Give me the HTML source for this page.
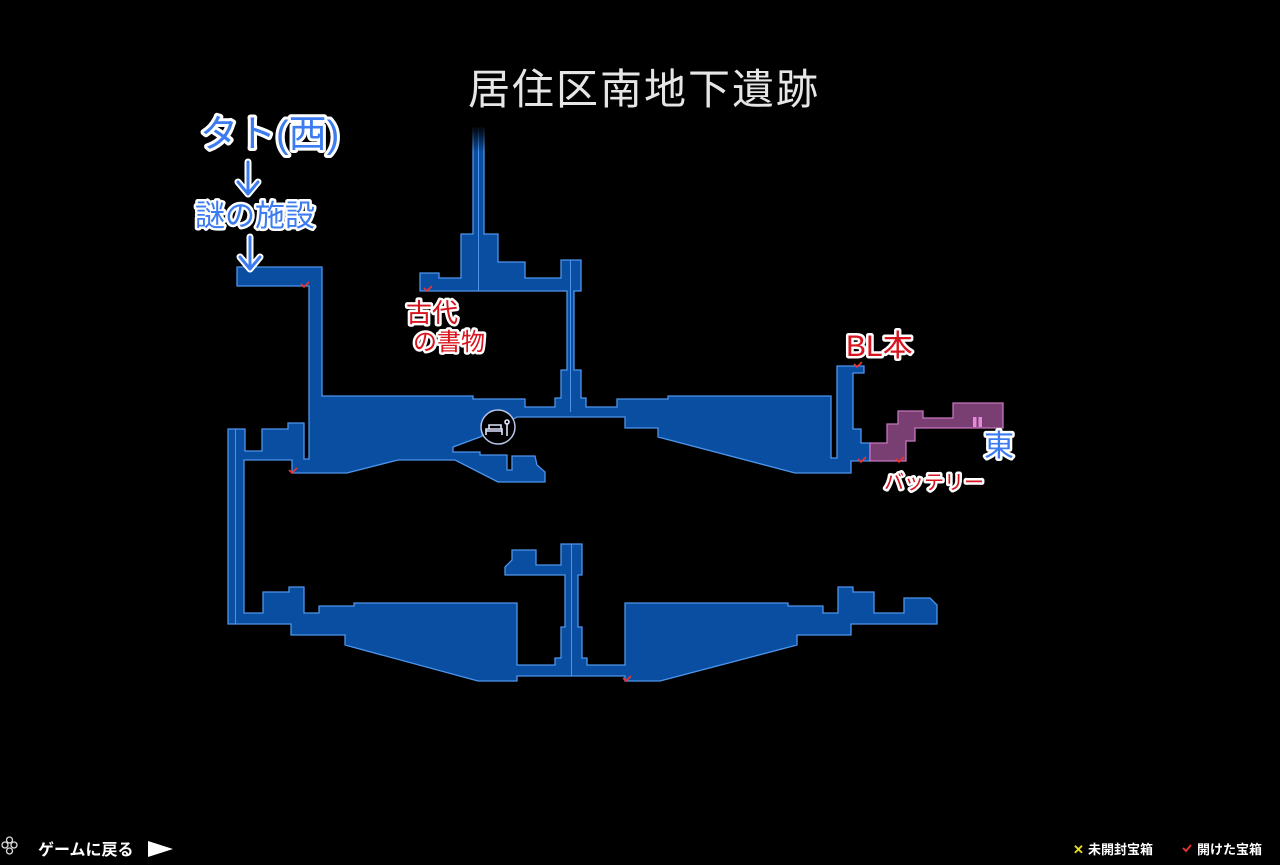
<!DOCTYPE html>
<html><head><meta charset="utf-8"><style>
html,body{margin:0;padding:0;background:#000;width:1280px;height:865px;overflow:hidden}
svg{display:block}
.hand{font-family:"Liberation Sans","Noto Sans CJK JP",sans-serif;font-weight:normal;paint-order:stroke;stroke:#fff;stroke-linejoin:round}
</style></head><body>
<svg width="1280" height="865" viewBox="0 0 1280 865" xmlns="http://www.w3.org/2000/svg">
<defs>
<linearGradient id="fade" x1="0" y1="0" x2="0" y2="1">
<stop offset="0" stop-color="#000" stop-opacity="1"/>
<stop offset="1" stop-color="#000" stop-opacity="0"/>
</linearGradient>
</defs>
<rect width="1280" height="865" fill="#000"/>
<text x="644" y="104" text-anchor="middle" font-family="'Liberation Sans','Noto Sans CJK JP',sans-serif" font-size="42" fill="#e6e6e6" letter-spacing="2">居住区南地下遺跡</text>

<polygon fill="#0a4ea2" stroke="#4d95ec" stroke-width="1.3" stroke-linejoin="miter" points="237,267 322,267 322,396 473,396 473,399 525,399 525,407 555,407 555,398 561,398 561,370 567,370 567,291 420,291 420,273 439,273 439,278 461,278 461,234 473,234 473,128 484,128 484,234 498,234 498,262 525,262 525,278 561,278 561,260 581,260 581,291 574,291 574,370 581,370 581,398 586,398 586,407 617,407 617,399 668,399 668,396 831,396 831,458 837,458 837,366 864,366 864,373 853,373 853,429 861,429 861,443 870,443 870,461 851,461 851,473 795,473 658,437 658,428 625,428 625,417 517,417 480,437 453,447 453,452 480,452 480,455 507,455 507,470 512,470 512,456 535,456 537,465 545,472 545,482 498,482 455,460 398,460 347,473 292,473 292,460 244,460 244,613 263,613 263,592 289,592 289,587 304,587 304,613 319,613 319,606 354,606 354,603 517,603 517,665 555,665 555,658 561,658 561,627 565,627 565,575 505,575 505,567 512,560 512,550 536,550 536,565 561,565 561,544 582,544 582,575 578,575 578,627 582,627 582,658 587,658 587,665 625,665 625,603 788,603 788,606 823,606 823,613 838,613 838,587 853,587 853,592 874,592 874,613 904,613 904,598 930,598 937,605 937,624 851,624 851,635 797,635 797,645 660,681 625,681 625,676 517,676 517,681 478,681 345,645 345,635 291,635 291,624 228,624 228,429 245,429 245,451 262,451 262,429 288,429 288,423 304,423 304,459 309,459 309,286 237,286"/>
<g stroke="#4d95ec" stroke-width="1">
<line x1="478.5" y1="128" x2="478.5" y2="291"/>
<line x1="570.5" y1="260" x2="570.5" y2="412"/>
<line x1="571.5" y1="544" x2="571.5" y2="676"/>
<line x1="235.5" y1="429" x2="235.5" y2="624"/>
</g>
<rect x="466" y="126" width="26" height="26" fill="url(#fade)"/>

<polygon fill="#7a3f72" stroke="#c676be" stroke-width="1.3" points="870,443 887,443 887,424 898,424 898,411 923,411 923,418 953,418 953,403 1003,403 1003,428 915,428 915,441 906,441 906,461 870,461"/>
<rect x="973" y="417" width="3.5" height="10" fill="#e48ad8"/>
<rect x="978.5" y="417" width="3.5" height="10" fill="#e48ad8"/>

<circle cx="498" cy="427" r="17" fill="#000" stroke="#b8c4e8" stroke-width="1.5"/>
<g stroke="#dfe6ff" stroke-width="1.6" fill="none">
<path d="M486 435 v-6 h16 v6 M486 431 h16 M489 429 v-4 h12 v4"/>
<path d="M507 436 v-12"/>
<circle cx="507" cy="422" r="2"/>
</g>

<g fill="none" stroke="#e33" stroke-width="1.6">
<path d="M301 284 l3 3 l5 -5"/><path d="M424 288 l3 3 l5 -5"/><path d="M289 470 l3 3 l5 -5"/>
<path d="M854 364 l3 3 l5 -5"/><path d="M858 459 l3 3 l5 -5"/><path d="M896 459 l3 3 l5 -5"/>
<path d="M623 678 l3 3 l5 -5"/>
</g>

<text class="hand" x="200" y="147" font-size="38" fill="#3c7cf0" stroke-width="6">タト(西)</text>
<g fill="none" stroke-linecap="round" stroke-linejoin="round">
<path d="M248 162 v30 M238 182 l10 12 l10 -12" stroke="#fff" stroke-width="7"/>
<path d="M248 162 v30 M238 182 l10 12 l10 -12" stroke="#3c7cf0" stroke-width="3"/>
<path d="M250 237 v30 M240 257 l10 12 l10 -12" stroke="#fff" stroke-width="7"/>
<path d="M250 237 v30 M240 257 l10 12 l10 -12" stroke="#3c7cf0" stroke-width="3"/>
</g>
<text class="hand" x="195" y="226" font-size="30" fill="#3c7cf0" stroke-width="5">謎の施設</text>
<text class="hand" x="406" y="322" font-size="26" fill="#d8141e" stroke-width="5">古代</text>
<text class="hand" x="413" y="350" font-size="24" fill="#d8141e" stroke-width="5">の書物</text>
<text class="hand" x="846" y="356" font-size="30" fill="#d8141e" stroke-width="5">BL本</text>
<text class="hand" x="884" y="489" font-size="20" fill="#d8141e" stroke-width="5">バッテリー</text>
<text class="hand" x="984" y="456" font-size="30" fill="#3c7cf0" stroke-width="5">東</text>

<g fill="none" stroke="#ddd" stroke-width="1.3">
<circle cx="5" cy="845" r="3"/><circle cx="14" cy="845" r="3"/><circle cx="9.5" cy="840" r="3"/><circle cx="9.5" cy="851" r="3"/>
</g>
<text x="38" y="855" font-family="'Liberation Sans','Noto Sans CJK JP',sans-serif" font-size="16" font-weight="bold" fill="#fff">ゲームに戻る</text>
<polygon points="148,841 173,849 148,857" fill="#fff"/>
<text x="1073" y="854" font-family="'Liberation Sans','Noto Sans CJK JP',sans-serif" font-size="13" font-weight="bold" fill="#e8e020">✕</text>
<text x="1088" y="854" font-family="'Liberation Sans','Noto Sans CJK JP',sans-serif" font-size="13" font-weight="bold" fill="#fff">未開封宝箱</text>
<path d="M1183 848 l3 3 l5 -6" fill="none" stroke="#e33" stroke-width="1.8"/>
<text x="1197" y="854" font-family="'Liberation Sans','Noto Sans CJK JP',sans-serif" font-size="13" font-weight="bold" fill="#fff">開けた宝箱</text>
</svg>
</body></html>
